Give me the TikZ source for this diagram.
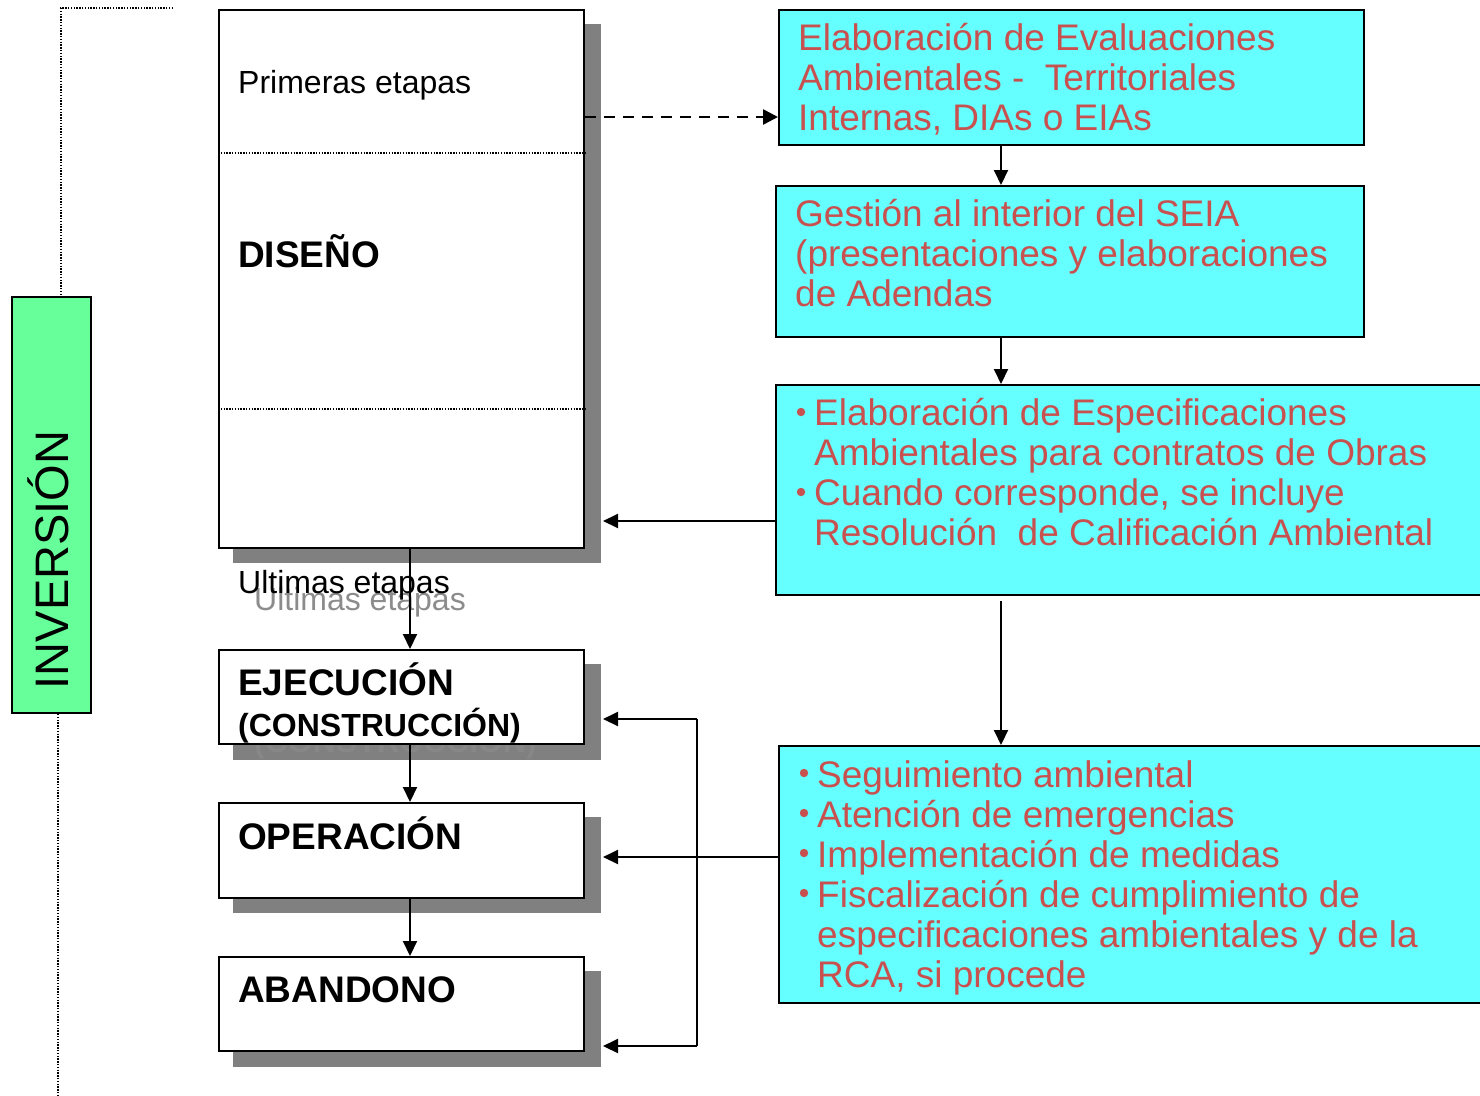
\documentclass[tikz,border=0pt]{standalone}
\usepackage{fontspec}
\setmainfont{Liberation Sans}
\usetikzlibrary{arrows.meta,backgrounds}
\definecolor{cyanbox}{HTML}{66FFFF}
\definecolor{greenbox}{HTML}{66FF99}
\definecolor{redtxt}{HTML}{C8504F}
\definecolor{shadowgray}{HTML}{808080}
\definecolor{ghostgray}{HTML}{8C8C8C}
\definecolor{ghostfaint}{HTML}{878787}
\begin{document}
\begin{tikzpicture}[x=1pt,y=-1pt,
  box/.style={draw, line width=2pt, anchor=north west, inner sep=0, fill=white},
  cbox/.style={box, fill=cyanbox},
  rt/.style={anchor=base west, inner sep=0, text=redtxt, font=\fontsize{37}{40}\selectfont},
  bt/.style={anchor=base west, inner sep=0, font=\bfseries\fontsize{37}{40}\selectfont},
  bst/.style={anchor=base west, inner sep=0, font=\bfseries\fontsize{32}{36}\selectfont},
  nt/.style={anchor=base west, inner sep=0, font=\fontsize{32}{36}\selectfont},
  arr/.style={line width=2pt, -{Triangle[length=15pt,width=14pt]}},
  dotline/.style={line width=1.4pt, dash pattern=on 1.4pt off 1.4pt},
  bul/.style={fill=redtxt},
]
\useasboundingbox (0,0) rectangle (1480,1095);
\clip (0,0) rectangle (1480,1095);

% left boxes
\node[box, minimum width=365pt, minimum height=538pt] (dis) at (218,9) {};
\node[box, minimum width=365pt, minimum height=94pt] (eje) at (218,649) {};
\node[box, minimum width=365pt, minimum height=95pt] (ope) at (218,802) {};
\node[box, minimum width=365pt, minimum height=94pt] (aba) at (218,956) {};
\node[box, fill=greenbox, minimum width=79pt, minimum height=416pt] (inv) at (11,296) {};

% right boxes
\node[cbox, minimum width=585pt, minimum height=135pt] (b1) at (778,9) {};
\node[cbox, minimum width=588pt, minimum height=151pt] (b2) at (775,185) {};
\node[cbox, minimum width=720pt, minimum height=210pt] (b3) at (775,384) {};
\node[cbox, minimum width=720pt, minimum height=257pt] (b4) at (778,745) {};

% shadows
\begin{pgfonlayer}{background}
\fill[shadowgray] (233,24) rectangle (601,563);
\fill[shadowgray] (233,664) rectangle (601,760);
\fill[shadowgray] (233,817) rectangle (601,913);
\fill[shadowgray] (233,971) rectangle (601,1067);
\node[bst, text=ghostfaint] (ghost2) at (254,752) {(CONSTRUCCIÓN)};
\end{pgfonlayer}

% dotted separators inside DISEÑO
\coordinate (s1) at (0,153);
\coordinate (s2) at (0,409);
\draw[dotline] (dis.west |- s1) -- (dis.east |- s1);
\draw[dotline] (dis.west |- s2) -- (dis.east |- s2);

% dotted bracket on the far left
\coordinate (d0) at (173,8);
\coordinate (d1) at (61,8);
\coordinate (d2) at (58,1095);
\draw[dotline] (d0) -- (d1) -- (d1 |- inv.north);
\draw[dotline] (d2 |- inv.south) -- (d2);

% left texts
\node[nt] (prim) at (238,93) {Primeras etapas};
\node[bt] (tdis) at (238,267) {DISEÑO};
\node[nt, text=ghostgray] (ghost1) at (254,610) {Ultimas etapas};
\node[nt] (ult) at (238,593) {Ultimas etapas};
\node[bt] (teje) at (238,695) {EJECUCIÓN};
\node[bst] (tcons) at (238,736) {(CONSTRUCCIÓN)};
\node[bt] (tope) at (238,849) {OPERACIÓN};
\node[bt] (taba) at (238,1002) {ABANDONO};
\node[anchor=base, inner sep=0, rotate=90, font=\fontsize{47}{50}\selectfont] (tinv) at (68,560) {INVERSIÓN};

% right texts
\node[rt] (l11) at (798,50) {Elaboración de Evaluaciones};
\node[rt] (l12) at (798,90) {Ambientales -\ \ Territoriales};
\node[rt] (l13) at (798,130) {Internas, DIAs o EIAs};

\node[rt] (l21) at (795,226) {Gestión al interior del SEIA};
\node[rt] (l22) at (795,266) {(presentaciones y elaboraciones};
\node[rt] (l23) at (795,306) {de Adendas};

\node[rt] (l31) at (814,425) {Elaboración de Especificaciones};
\node[rt] (l32) at (814,465) {Ambientales para contratos de Obras};
\node[rt] (l33) at (814,505) {Cuando corresponde, se incluye};
\node[rt] (l34) at (814,545) {Resolución\ \ de Calificación Ambiental};
\fill[bul] (801,412) circle (4.2pt);
\fill[bul] (801,492) circle (4.2pt);

\node[rt] (l41) at (817,787) {Seguimiento ambiental};
\node[rt] (l42) at (817,827) {Atención de emergencias};
\node[rt] (l43) at (817,867) {Implementación de medidas};
\node[rt] (l44) at (817,907) {Fiscalización de cumplimiento de};
\node[rt] (l45) at (817,947) {especificaciones ambientales y de la};
\node[rt] (l46) at (817,987) {RCA, si procede};
\fill[bul] (804,773) circle (4.2pt);
\fill[bul] (804,813) circle (4.2pt);
\fill[bul] (804,853) circle (4.2pt);
\fill[bul] (804,893) circle (4.2pt);

% connectors
\coordinate (ax) at (410,0);
\draw[arr] (dis.south -| ax) -- (eje.north -| ax);
\draw[arr] (eje.south -| ax) -- (ope.north -| ax);
\draw[arr] (ope.south -| ax) -- (aba.north -| ax);

\coordinate (dy) at (0,117);
\draw[line width=2.6pt, dash pattern=on 11pt off 8pt, -{Triangle[length=15pt,width=15pt]}] (dis.east |- dy) -- (b1.west |- dy);

\coordinate (rx) at (1001,0);
\draw[arr] (b1.south -| rx) -- (b2.north -| rx);
\draw[arr] (b2.south -| rx) -- (b3.north -| rx);
\coordinate (r3s) at (1001,601);
\draw[arr] (r3s) -- (b4.north -| rx);

\coordinate (tipx) at (603,0);
\coordinate (y3) at (0,521);
\coordinate (y4) at (0,857);
\draw[arr] (b3.west |- y3) -- (tipx |- y3);
\draw[arr] (b4.west |- y4) -- (tipx |- y4);

\coordinate (bk1) at (697,719);
\coordinate (bk2) at (697,1046);
\draw[line width=2pt] (bk1) -- (bk2);
\draw[arr] (bk1) -- (tipx |- bk1);
\draw[arr] (bk2) -- (tipx |- bk2);
\end{tikzpicture}
\end{document}
